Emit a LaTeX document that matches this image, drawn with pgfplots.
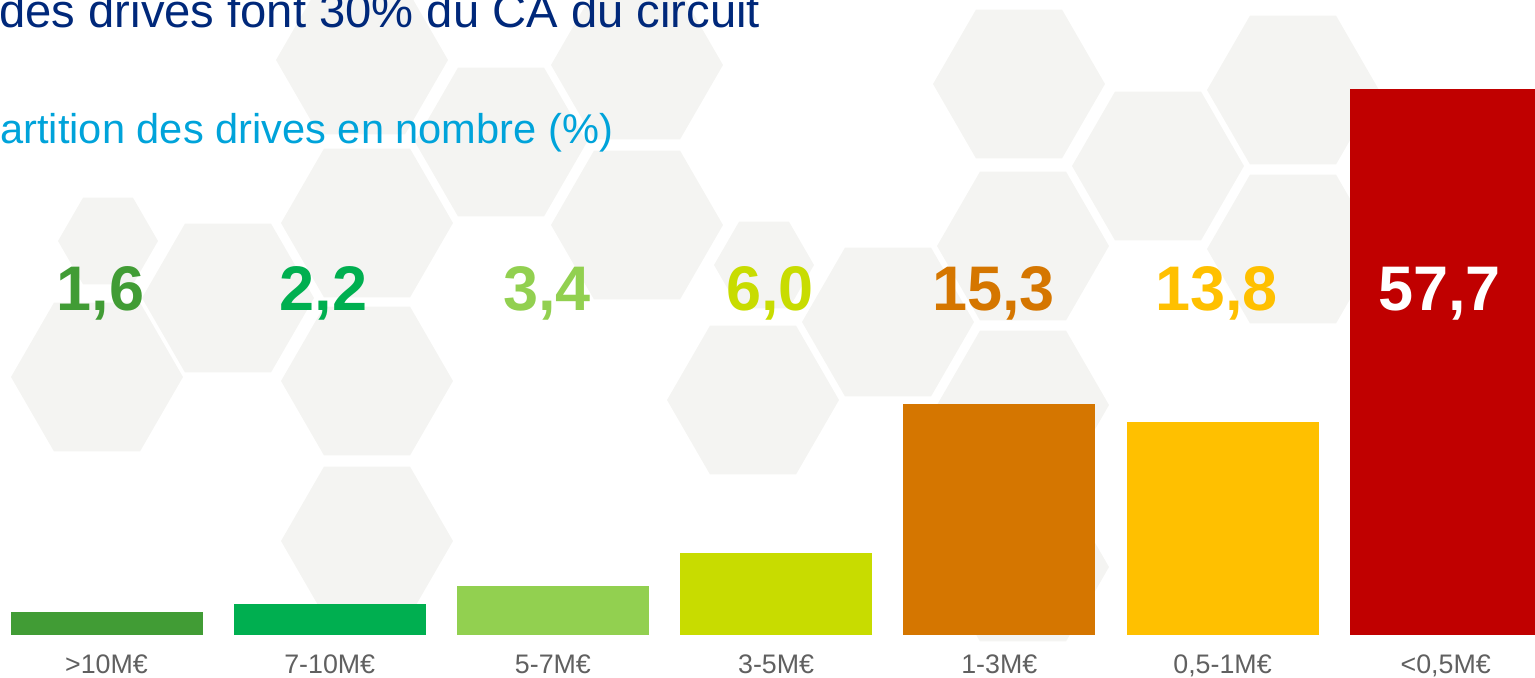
\documentclass[border=0pt]{standalone}
\usepackage{pgfplots}
\pgfplotsset{compat=1.18}
\usepackage{fontspec}
\setmainfont{Liberation Sans}
\definecolor{c1}{HTML}{419C35}
\definecolor{c2}{HTML}{00AF50}
\definecolor{c3}{HTML}{92D050}
\definecolor{c4}{HTML}{C8DC00}
\definecolor{c5}{HTML}{D57600}
\definecolor{c6}{HTML}{FFC000}
\definecolor{c7}{HTML}{C00000}
\definecolor{hexgray}{HTML}{F4F4F2}
\definecolor{titleblue}{HTML}{00287A}
\definecolor{subblue}{HTML}{00A3DA}
\definecolor{catgray}{HTML}{606060}
\newcommand{\hex}[3]{\fill[hexgray] ({#1-#3},{#2}) -- ({#1-#3/2},{#2-0.866*#3}) -- ({#1+#3/2},{#2-0.866*#3}) -- ({#1+#3},{#2}) -- ({#1+#3/2},{#2+0.866*#3}) -- ({#1-#3/2},{#2+0.866*#3}) -- cycle;}
\begin{document}
\begin{tikzpicture}
\useasboundingbox (0pt,0pt) rectangle (767.5pt,-338.5pt);
\clip (0pt,0pt) rectangle (767.5pt,-338.5pt);
\begin{scope}[x=0.5pt,y=-0.5pt]
\hex{362}{60}{86}
\hex{637}{65}{86}
\hex{501}{142}{86}
\hex{367}{223}{86}
\hex{637}{225}{86}
\hex{108}{241}{50}
\hex{228}{298}{86}
\hex{97}{377}{86}
\hex{367}{381}{86}
\hex{367}{541}{86}
\hex{753}{400}{86}
\hex{888}{322}{86}
\hex{1019}{84}{86}
\hex{1158}{166}{86}
\hex{1023}{246}{86}
\hex{1293}{90}{86}
\hex{1293}{249}{86}
\hex{1023}{405}{86}
\hex{1023}{567}{86}
\hex{764}{265}{50}
\node[anchor=base west, inner sep=0pt, text=titleblue, font=\fontsize{23.6}{28}\selectfont] at (-1,27) {des drives font 30\% du CA du circuit};
\node[anchor=base west, inner sep=0pt, text=subblue, font=\fontsize{20.8}{25}\selectfont] at (0,143) {artition des drives en nombre (\%)};
\end{scope}
\begin{axis}[
  at={(0pt,-317.5pt)}, anchor=south west,
  scale only axis, width=767.5pt, height=317.5pt,
  xmin=-0.4772, xmax=6.4001, ymin=0, ymax=67.106,
  axis line style={draw=none}, tick style={draw=none},
  ytick=\empty,
  xtick={0,1,2,3,4,5,6},
  xticklabels={{>10M€},{7-10M€},{5-7M€},{3-5M€},{1-3M€},{0,5-1M€},{<0,5M€}},
  xticklabel style={font=\fontsize{13.4}{16}\selectfont, text=catgray, anchor=base, yshift=-19pt},
]
\addplot[ybar, bar width=96pt, bar shift=0pt, fill=c1, draw=none] coordinates {(0,2.43)};
\addplot[ybar, bar width=96pt, bar shift=0pt, fill=c2, draw=none] coordinates {(1,3.28)};
\addplot[ybar, bar width=96pt, bar shift=0pt, fill=c3, draw=none] coordinates {(2,5.18)};
\addplot[ybar, bar width=96pt, bar shift=0pt, fill=c4, draw=none] coordinates {(3,8.67)};
\addplot[ybar, bar width=96pt, bar shift=0pt, fill=c5, draw=none] coordinates {(4,24.41)};
\addplot[ybar, bar width=96pt, bar shift=0pt, fill=c6, draw=none] coordinates {(5,22.51)};
\addplot[ybar, bar width=96pt, bar shift=0pt, fill=c7, draw=none] coordinates {(6,57.7)};
\pgfplotsset{labstyle/.style={draw=none, nodes near coords, point meta=explicit symbolic,
  every node near coord/.append style={text=#1, anchor=base, inner sep=0pt, xshift=-3pt, font=\bfseries\fontsize{31.5}{36}\selectfont}}}
\addplot[labstyle=c1] table[meta=lab, row sep=\\] {x y lab\\ 0 34.345 1,6\\};
\addplot[labstyle=c2] table[meta=lab, row sep=\\] {x y lab\\ 1 34.345 2,2\\};
\addplot[labstyle=c3] table[meta=lab, row sep=\\] {x y lab\\ 2 34.345 3,4\\};
\addplot[labstyle=c4] table[meta=lab, row sep=\\] {x y lab\\ 3 34.345 6,0\\};
\addplot[labstyle=c5] table[meta=lab, row sep=\\] {x y lab\\ 4 34.345 15,3\\};
\addplot[labstyle=c6] table[meta=lab, row sep=\\] {x y lab\\ 5 34.345 13,8\\};
\addplot[labstyle=white] table[meta=lab, row sep=\\] {x y lab\\ 6 34.345 57,7\\};
\end{axis}
\end{tikzpicture}
\end{document}
